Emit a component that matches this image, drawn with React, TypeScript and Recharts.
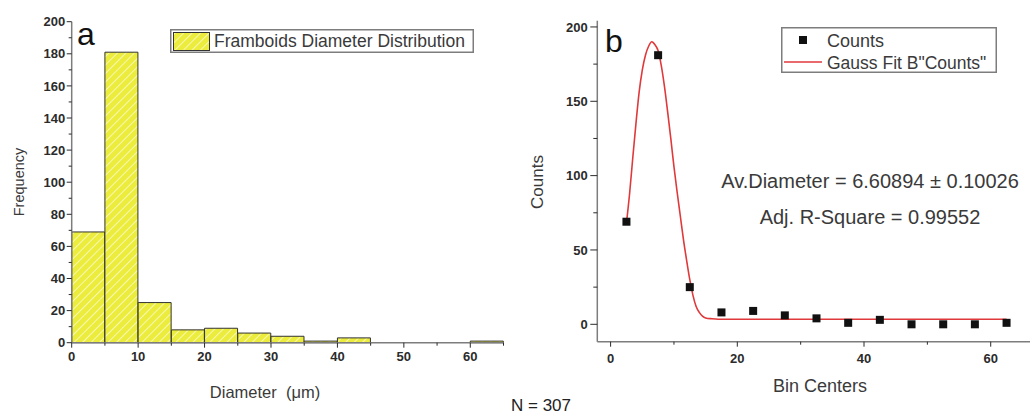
import React from "react";
import { BarChart, Bar, ComposedChart, Line, Scatter, XAxis, YAxis, Legend } from "recharts";

// histogram bins (5 µm wide) and their counts
const binCenters = [2.5, 7.5, 12.5, 17.5, 22.5, 27.5, 32.5, 37.5, 42.5, 47.5, 52.5, 57.5, 62.5];
const counts = [69, 181, 25, 8, 9, 6, 4, 1, 3, 0, 0, 0, 1];

// gauss fit curve
const fitX = [2.5, 3, 3.5, 4, 4.5, 5, 5.5, 6, 6.5, 7, 7.5, 8, 8.5, 9, 9.5, 10, 10.5, 11, 11.5, 12, 12.5, 13, 13.5, 14, 14.5, 15, 16, 17, 20, 30, 40, 50, 62.5];
const fitY = [68, 88, 112, 135, 156, 171, 181, 187, 190, 188, 184, 174, 160, 143, 125, 106, 89, 73, 57, 43, 30, 19.5, 12, 8, 5.5, 4.3, 3.7, 3.4, 3.4, 3.4, 3.4, 3.4, 3.4];

const histXMajor = [0, 10, 20, 30, 40, 50, 60];
const histXMinor = [5, 15, 25, 35, 45, 55, 65];
const freqMajor = [0, 20, 40, 60, 80, 100, 120, 140, 160, 180, 200];
const freqMinor = [10, 30, 50, 70, 90, 110, 130, 150, 170, 190];
const binXMajor = [0, 20, 40, 60];
const binXMinor = [10, 30, 50];
const countMajor = [0, 50, 100, 150, 200];
const countMinor = [25, 75, 125, 175];

const histData = binCenters.map((x, i) => ({ x, count: counts[i] }));
const pointData = binCenters.map((x, i) => ({ x, y: counts[i] }));
const fitData = fitX.map((x, i) => ({ x, y: fitY[i] }));

const FONT = '"Liberation Sans", Arial, sans-serif';
const FRAME = "#7d7d7d";
const INK = "#2b2b2b";
const TEXT = "#3a3a3a";
const TICK_SIZE = 5;
const TICK_GAP = 2;

const sortNums = (a: number[], b: number[]) => [...a, ...b].sort((p, q) => p - q);

function BottomTick(props: any) {
  const { x, y, payload, majors, labelGap, majorLen, minorLen } = props;
  const axisY = y - TICK_SIZE - TICK_GAP;
  const major = majors.includes(payload.value);
  return (
    <g>
      <line x1={x} x2={x} y1={axisY} y2={axisY + (major ? majorLen : minorLen)} stroke={INK} strokeWidth={1} />
      {major && (
        <text x={x} y={axisY + labelGap} dy="0.71em" textAnchor="middle" fontFamily={FONT} fontSize={13} fontWeight="bold" fill={INK}>
          {payload.value}
        </text>
      )}
    </g>
  );
}

function LeftTick(props: any) {
  const { x, y, payload, majors, labelGap, majorLen, minorLen } = props;
  const axisX = x + TICK_SIZE + TICK_GAP;
  const major = majors.includes(payload.value);
  return (
    <g>
      <line x1={axisX - (major ? majorLen : minorLen)} x2={axisX} y1={y} y2={y} stroke={INK} strokeWidth={1} />
      {major && (
        <text x={axisX - labelGap} y={y} dy="0.36em" textAnchor="end" fontFamily={FONT} fontSize={13} fontWeight="bold" fill={INK}>
          {payload.value}
        </text>
      )}
    </g>
  );
}

function HatchDef({ id }: { id: string }) {
  return (
    <defs>
      <pattern id={id} patternUnits="userSpaceOnUse" width={6} height={6} patternTransform="rotate(45)">
        <rect width={6} height={6} fill="#ecec3c" />
        <line x1={0} y1={0} x2={0} y2={6} stroke="#f7f7b4" strokeWidth={2} />
      </pattern>
    </defs>
  );
}

function HistLegend() {
  return (
    <svg width={304} height={24} style={{ display: "block" }}>
      <HatchDef id="hatchLegend" />
      <rect x={0.75} y={0.75} width={302.5} height={22.5} fill="#fff" stroke={FRAME} strokeWidth={1.5} />
      <rect x={3.5} y={3.5} width={36} height={18} fill="url(#hatchLegend)" stroke="#333" strokeWidth={1} />
      <text x={44} y={17.7} fontFamily={FONT} fontSize={17.5} fill={TEXT}>
        Framboids Diameter Distribution
      </text>
    </svg>
  );
}

function FitLegend() {
  return (
    <svg width={216} height={46} style={{ display: "block" }}>
      <rect x={0.75} y={0.75} width={214.5} height={44.5} fill="#fff" stroke={FRAME} strokeWidth={1.5} />
      <rect x={18} y={9} width={8} height={8} fill="#111" />
      <text x={46} y={19.5} fontFamily={FONT} fontSize={18} fill={TEXT}>Counts</text>
      <line x1={3} x2={41} y1={35} y2={35} stroke="#e0393b" strokeWidth={1.6} />
      <text x={46} y={41.5} fontFamily={FONT} fontSize={17.5} fill={TEXT}>Gauss Fit B"Counts"</text>
    </svg>
  );
}

function HistogramPanel() {
  return (
    <BarChart
      width={520}
      height={416}
      data={histData}
      barCategoryGap={0}
      barGap={0}
      margin={{ top: 21.7, right: 16.5, bottom: 43.3, left: 0 }}
      style={{ position: "absolute", left: 0, top: 0 }}
    >
      <HatchDef id="hatch" />
      <XAxis
        dataKey="x"
        type="number"
        domain={[0, 65]}
        ticks={sortNums(histXMajor, histXMinor)}
        interval={0}
        height={30}
        tickSize={TICK_SIZE}
        tickMargin={TICK_GAP}
        tickLine={false}
        axisLine={{ stroke: FRAME, strokeWidth: 1.5 }}
        tick={(p: any) => <BottomTick {...p} majors={histXMajor} labelGap={9} majorLen={5} minorLen={3} />}
      />
      <XAxis xAxisId="top" orientation="top" type="number" domain={[0, 65]} height={0} tick={false} tickLine={false} axisLine={{ stroke: FRAME, strokeWidth: 1.5 }} />
      <YAxis
        type="number"
        domain={[0, 200]}
        ticks={sortNums(freqMajor, freqMinor)}
        interval={0}
        width={71.7}
        tickSize={TICK_SIZE}
        tickMargin={TICK_GAP}
        tickLine={false}
        axisLine={{ stroke: FRAME, strokeWidth: 1.5 }}
        tick={(p: any) => <LeftTick {...p} majors={freqMajor} labelGap={6.5} majorLen={5} minorLen={3} />}
      />
      <YAxis yAxisId="right" orientation="right" type="number" domain={[0, 200]} width={0} tick={false} tickLine={false} axisLine={{ stroke: FRAME, strokeWidth: 1.5 }} />
      <Legend verticalAlign="middle" align="center" wrapperStyle={{ left: 170, top: 29, width: 304, height: 24 }} content={() => <HistLegend />} />
      <Bar dataKey="count" fill="url(#hatch)" stroke="#333" strokeWidth={1} isAnimationActive={false} />
    </BarChart>
  );
}

function FitPanel() {
  return (
    <ComposedChart
      width={530}
      height={416}
      margin={{ top: 20.7, right: 8.6, bottom: 44.3, left: 0 }}
      style={{ position: "absolute", left: 520, top: 0 }}
    >
      <XAxis
        dataKey="x"
        type="number"
        domain={[-2.1, 68]}
        allowDataOverflow
        ticks={sortNums(binXMajor, binXMinor)}
        interval={0}
        height={30}
        tickSize={TICK_SIZE}
        tickMargin={TICK_GAP}
        tickLine={false}
        axisLine={{ stroke: FRAME, strokeWidth: 1.5 }}
        tick={(p: any) => <BottomTick {...p} majors={binXMajor} labelGap={12.5} majorLen={5} minorLen={3} />}
      />
      <XAxis xAxisId="top" orientation="top" type="number" domain={[-2.1, 68]} height={0} tick={false} tickLine={false} axisLine={{ stroke: FRAME, strokeWidth: 1.5 }} />
      <YAxis
        type="number"
        domain={[-11.7, 204.2]}
        allowDataOverflow
        ticks={sortNums(countMajor, countMinor)}
        interval={0}
        width={77.3}
        tickSize={TICK_SIZE}
        tickMargin={TICK_GAP}
        tickLine={false}
        axisLine={{ stroke: FRAME, strokeWidth: 1.5 }}
        tick={(p: any) => <LeftTick {...p} majors={countMajor} labelGap={9.5} majorLen={7} minorLen={4} />}
      />
      <YAxis yAxisId="right" orientation="right" type="number" domain={[-11.7, 204.2]} width={0} tick={false} tickLine={false} axisLine={{ stroke: FRAME, strokeWidth: 1.5 }} />
      <Legend verticalAlign="middle" align="center" wrapperStyle={{ left: 261, top: 27, width: 216, height: 46 }} content={() => <FitLegend />} />
      <Line data={fitData} dataKey="y" type="monotone" stroke="#e0393b" strokeWidth={1.6} dot={false} isAnimationActive={false} />
      <Scatter
        data={pointData}
        dataKey="y"
        fill="#111"
        isAnimationActive={false}
        shape={(p: any) => <rect x={p.cx - 4} y={p.cy - 4} width={8} height={8} fill="#111" />}
      />
    </ComposedChart>
  );
}

export default function App() {
  return (
    <div style={{ position: "absolute", left: 0, top: 0, width: 1030, height: 416, overflow: "hidden", background: "#fff" }}>
      <HistogramPanel />
      <FitPanel />
      <svg width={1030} height={416} style={{ position: "absolute", left: 0, top: 0, pointerEvents: "none" }} fontFamily={FONT}>
        <text x={77} y={45} fontSize={32} fill="#111">a</text>
        <text transform="translate(24,182) rotate(-90)" textAnchor="middle" fontSize={14.5} fill={TEXT}>Frequency</text>
        <text x={265} y={397.5} textAnchor="middle" fontSize={16.5} fill={TEXT}>{"Diameter \u00a0(\u03bcm)"}</text>
        <text x={605} y={52} fontSize={32} fill="#111">b</text>
        <text transform="translate(543,182) rotate(-90)" textAnchor="middle" fontSize={17} fill={TEXT}>Counts</text>
        <text x={820} y={391.7} textAnchor="middle" fontSize={18} fill={TEXT}>Bin Centers</text>
        <text x={870} y={188.3} textAnchor="middle" fontSize={20} fill={TEXT}>{"Av.Diameter = 6.60894 \u00b1 0.10026"}</text>
        <text x={870} y={224} textAnchor="middle" fontSize={20} fill={TEXT}>Adj. R-Square = 0.99552</text>
        <text x={541} y={411} textAnchor="middle" fontSize={17} fill="#222">N = 307</text>
      </svg>
    </div>
  );
}
